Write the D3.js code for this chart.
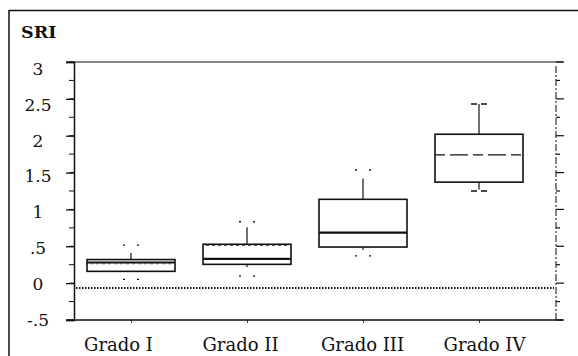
<!DOCTYPE html>
<html>
<head>
<meta charset="utf-8">
<script src="https://cdn.jsdelivr.net/npm/d3@7"></script>
<style>
  body { margin: 0; background: #fff; }
  text { font-family: "DejaVu Serif", "Liberation Serif", serif; fill: #111; }
</style>
</head>
<body>
<div id="chart"></div>
<script>
// box plot data (SRI by grade)
let categories = ["Grado I", "Grado II", "Grado III", "Grado IV"];
let q1        = [0.16, 0.255, 0.49, 1.37];
let medians   = [0.28, 0.33, 0.684, 1.74];
let q3        = [0.32, 0.527, 1.137, 2.02];
let means     = [0.263, 0.51, null, 1.74];
let whiskerLo = [0.15, 0.22, 0.45, 1.27];
let whiskerHi = [0.41, 0.757, 1.42, 2.43];
let capLo     = [0.05, 0.096, 0.37, 1.25];
let capHi     = [0.517, 0.833, 1.535, 2.43];
let refLine   = -0.065;
let yTicks    = [3, 2.5, 2, 1.5, 1, 0.5, 0, -0.5];
let yTickLabels = ["3", "2.5", "2", "1.5", "1", ".5", "0", "-.5"];
let yMinor    = d3.range(-0.5, 3.01, 0.25);

let width = 578, height = 356;
let plotLeft = 74, plotRight = 556, plotTop = 62, plotBottom = 320;
let boxw = 88;
let fontFam = "'DejaVu Serif', 'Liberation Serif', serif";

let svg = d3.select("#chart")
  .append("svg")
  .attr("width", width)
  .attr("height", height);

// outer frame (cropped figure border)
svg.append("line").attr("x1", 9).attr("x2", 9).attr("y1", 10).attr("y2", height)
  .attr("stroke", "#111").attr("stroke-width", 1.5);
svg.append("line").attr("x1", 9).attr("x2", width).attr("y1", 10.5).attr("y2", 10.5)
  .attr("stroke", "#111").attr("stroke-width", 1.5);

let y = d3.scaleLinear().domain([-0.5, 3]).range([plotBottom, plotTop]);
// the scanned labels sit slightly off their ticks
let yLab = d3.scaleLinear().domain([-0.5, 3]).range([319, 68.5]);
let x = d3.scalePoint().domain(categories).range([131, 479]);
let xLab = d3.scalePoint().domain(categories).range([118, 484]);

// top line of the plot area
svg.append("line").attr("x1", 66).attr("x2", 563).attr("y1", plotTop).attr("y2", plotTop)
  .attr("stroke", "#111").attr("stroke-width", 1.2);

// left axis: major ticks with labels, minor ticks
let yAxis = d3.axisLeft(y)
  .tickValues(yTicks)
  .tickSize(8)
  .tickPadding(0)
  .tickFormat(function(d, i) { return yTickLabels[i]; });
let ga = svg.append("g").attr("transform", "translate(" + plotLeft + ",0)").call(yAxis);
ga.select(".domain").attr("stroke", "#111").attr("stroke-width", 1.5);
ga.selectAll(".tick line").attr("stroke", "#111").attr("stroke-width", 1.3);
ga.selectAll(".tick text")
  .attr("x", -36)
  .attr("y", function(d) { return yLab(d) - y(d); })
  .attr("dy", "0.36em")
  .attr("text-anchor", "middle")
  .style("font-size", "17px")
  .style("font-family", fontFam);
svg.append("g").selectAll("line")
  .data(yMinor)
  .enter()
  .append("line")
  .attr("x1", plotLeft - 5).attr("x2", plotLeft)
  .attr("y1", function(d) { return y(d); })
  .attr("y2", function(d) { return y(d); })
  .attr("stroke", "#111").attr("stroke-width", 1);

// right axis, drawn dash-dotted with ticks pointing outward
svg.append("line").attr("x1", plotRight).attr("x2", plotRight).attr("y1", plotTop + 4).attr("y2", plotBottom)
  .attr("stroke", "#333").attr("stroke-width", 1.2).attr("stroke-dasharray", "7,2,2,2");
svg.append("g").selectAll("line")
  .data(yMinor)
  .enter()
  .append("line")
  .attr("x1", plotRight)
  .attr("x2", function(d, i) { return plotRight + (i % 2 === 0 ? 8 : 4); })
  .attr("y1", function(d) { return y(d); })
  .attr("y2", function(d) { return y(d); })
  .attr("stroke", "#111").attr("stroke-width", 1.2);

// bottom axis with category labels
let xAxis = d3.axisBottom(x).tickSize(3).tickPadding(15);
let gx = svg.append("g").attr("transform", "translate(0," + plotBottom + ")").call(xAxis);
gx.select(".domain").remove();
gx.selectAll(".tick line").attr("stroke", "#444");
gx.selectAll(".tick text")
  .attr("x", function(d) { return xLab(d) - x(d); })
  .style("font-size", "18px")
  .style("font-family", fontFam);
svg.append("line").attr("x1", 66).attr("x2", 563).attr("y1", plotBottom).attr("y2", plotBottom)
  .attr("stroke", "#111").attr("stroke-width", 1.5);

// "SRI" axis title
svg.append("text").attr("x", 21).attr("y", 38)
  .style("font-size", "17.5px").attr("font-weight", "bold")
  .style("font-family", fontFam)
  .text("SRI");

// reference dotted line
svg.append("line")
  .attr("x1", plotLeft + 2).attr("x2", plotRight - 2)
  .attr("y1", y(refLine)).attr("y2", y(refLine))
  .attr("stroke", "#111").attr("stroke-width", 2)
  .attr("stroke-dasharray", "1.5,1.5");

// boxes
let idx = d3.range(categories.length);
let boxes = svg.append("g");

// whiskers
boxes.selectAll("line.whi")
  .data(idx).enter().append("line").attr("class", "whi")
  .attr("x1", function(i) { return x(categories[i]); })
  .attr("x2", function(i) { return x(categories[i]); })
  .attr("y1", function(i) { return y(q3[i]); })
  .attr("y2", function(i) { return y(whiskerHi[i]); })
  .attr("stroke", "#111").attr("stroke-width", 1.2);
boxes.selectAll("line.wlo")
  .data(idx).enter().append("line").attr("class", "wlo")
  .attr("x1", function(i) { return x(categories[i]); })
  .attr("x2", function(i) { return x(categories[i]); })
  .attr("y1", function(i) { return y(q1[i]); })
  .attr("y2", function(i) { return y(whiskerLo[i]); })
  .attr("stroke", "#111").attr("stroke-width", 1.2);

// caps, drawn as broken short lines
[capHi, capLo].forEach(function(arr) {
  boxes.append("g").selectAll("line")
    .data(idx).enter().append("line")
    .attr("x1", function(i) { return x(categories[i]) - 8; })
    .attr("x2", function(i) { return x(categories[i]) + 8; })
    .attr("y1", function(i) { return y(arr[i]); })
    .attr("y2", function(i) { return y(arr[i]); })
    .attr("stroke", "#111").attr("stroke-width", 1.3)
    .attr("stroke-dasharray", function(i) { return i === 3 ? "6,4" : "2,12"; });
});

// box rectangles
boxes.selectAll("rect")
  .data(idx).enter().append("rect")
  .attr("x", function(i) { return x(categories[i]) - boxw / 2; })
  .attr("y", function(i) { return y(q3[i]); })
  .attr("width", boxw)
  .attr("height", function(i) { return y(q1[i]) - y(q3[i]); })
  .attr("fill", "#fff")
  .attr("stroke", "#111").attr("stroke-width", 1.6);

// medians
boxes.selectAll("line.med")
  .data(idx).enter().append("line").attr("class", "med")
  .attr("x1", function(i) { return x(categories[i]) - boxw / 2; })
  .attr("x2", function(i) { return x(categories[i]) + boxw / 2; })
  .attr("y1", function(i) { return y(medians[i]); })
  .attr("y2", function(i) { return y(medians[i]); })
  .attr("stroke", "#111")
  .attr("stroke-width", function(i) { return i === 3 ? 1.2 : 2.2; })
  .attr("stroke-dasharray", function(i) { return i === 3 ? "10,5,18,5" : null; });

// means (dashed)
boxes.selectAll("line.mean")
  .data(idx.filter(function(i) { return means[i] !== null && i !== 3; }))
  .enter().append("line").attr("class", "mean")
  .attr("x1", function(i) { return x(categories[i]) - boxw / 2 + 3; })
  .attr("x2", function(i) { return x(categories[i]) + boxw / 2 - 3; })
  .attr("y1", function(i) { return y(means[i]); })
  .attr("y2", function(i) { return y(means[i]); })
  .attr("stroke", "#555").attr("stroke-width", 1)
  .attr("stroke-dasharray", "3,3");
</script>
</body>
</html>
